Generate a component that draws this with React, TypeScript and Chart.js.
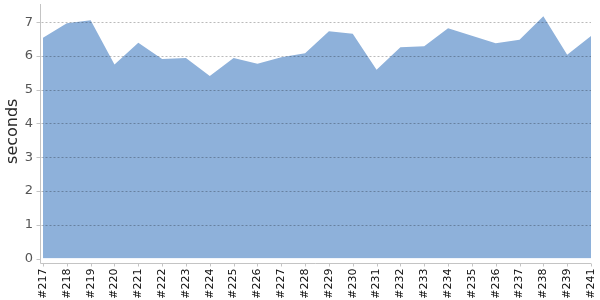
import React, { useEffect, useRef } from "react";
import { Chart, registerables } from "chart.js";

Chart.register(...registerables);

const categories = ["#217", "#218", "#219", "#220", "#221", "#222", "#223", "#224", "#225", "#226", "#227", "#228", "#229", "#230", "#231", "#232", "#233", "#234", "#235", "#236", "#237", "#238", "#239", "#241"];
const durations = [6.54, 6.97, 7.06, 5.75, 6.39, 5.91, 5.94, 5.41, 5.94, 5.77, 5.96, 6.08, 6.73, 6.66, 5.59, 6.26, 6.29, 6.82, 6.6, 6.38, 6.48, 7.18, 6.04, 6.59];
const yTicks = [0, 1, 2, 3, 4, 5, 6, 7];
const yMax = 7.54;
const yTitle = "seconds";

const axesPlugin = {
  id: "customAxes",
  afterDatasetsDraw(chart: any) {
    const { ctx, chartArea } = chart;
    const xs = chart.scales.x;
    const ys = chart.scales.y;
    const axisX = Math.round(chartArea.left - 3) + 0.5;
    const axisY = Math.round(chartArea.bottom + 4) + 0.5;
    ctx.save();
    ctx.lineWidth = 1;
    ctx.strokeStyle = "rgba(0,0,0,0.27)";
    ctx.setLineDash([2, 2]);
    yTicks.forEach((v) => {
      if (v === 0) return;
      const y = Math.round(ys.getPixelForValue(v)) + 0.5;
      ctx.beginPath();
      ctx.moveTo(axisX + 1, y);
      ctx.lineTo(chartArea.right, y);
      ctx.stroke();
    });
    ctx.setLineDash([]);
    ctx.strokeStyle = "#c4c4c4";
    ctx.beginPath();
    ctx.moveTo(axisX, chartArea.top);
    ctx.lineTo(axisX, axisY);
    ctx.lineTo(chartArea.right, axisY);
    ctx.stroke();
    categories.forEach((_, i) => {
      const x = Math.round(xs.getPixelForValue(i)) + 0.5;
      ctx.beginPath();
      ctx.moveTo(x, axisY);
      ctx.lineTo(x, axisY + 3);
      ctx.stroke();
    });
    yTicks.forEach((v) => {
      const y = Math.round(ys.getPixelForValue(v)) + 0.5;
      ctx.beginPath();
      ctx.moveTo(axisX - 4, y);
      ctx.lineTo(axisX, y);
      ctx.stroke();
    });
    ctx.restore();
  },
};

export default function App() {
  const canvasRef = useRef<HTMLCanvasElement | null>(null);

  useEffect(() => {
    if (!canvasRef.current) return;
    const chart = new Chart(canvasRef.current, {
      type: "line",
      data: {
        labels: categories,
        datasets: [
          {
            data: durations,
            fill: "origin",
            backgroundColor: "#8eb1da",
            borderColor: "#8eb1da",
            borderWidth: 0,
            pointRadius: 0,
            tension: 0,
          },
        ],
      },
      plugins: [axesPlugin],
      options: {
        animation: false,
        responsive: true,
        maintainAspectRatio: false,
        layout: { padding: { top: 4, right: 9, left: 0, bottom: 0 } },
        plugins: { legend: { display: false }, tooltip: { enabled: false } },
        scales: {
          x: {
            offset: false,
            border: { display: false },
            grid: { display: false, drawTicks: false },
            afterFit: (s: any) => {
              s.height = 41.5;
              s.paddingLeft = 0;
              s.paddingRight = 0;
              s.paddingTop = 0;
              s.paddingBottom = 0;
            },
            ticks: {
              minRotation: 90,
              maxRotation: 90,
              autoSkip: false,
              padding: 10,
              color: "#111",
              font: { family: "DejaVu Sans", size: 11 },
            },
          },
          y: {
            min: 0,
            max: yMax,
            border: { display: false },
            grid: { display: false, drawTicks: false },
            afterBuildTicks: (s: any) => {
              s.ticks = yTicks.map((v) => ({ value: v }));
            },
            afterFit: (s: any) => {
              s.width = 43;
              s.paddingLeft = 0;
              s.paddingRight = 0;
              s.paddingTop = 0;
              s.paddingBottom = 0;
            },
            ticks: {
              padding: 10,
              color: "#555",
              font: { family: "DejaVu Sans", size: 13 },
            },
            title: {
              display: true,
              text: yTitle,
              color: "#2a2a2a",
              padding: { top: 3, bottom: 0 },
              font: { family: "DejaVu Sans", size: 16 },
            },
          },
        },
      },
    });
    return () => chart.destroy();
  }, []);

  return (
    <div style={{ position: "absolute", left: 0, top: 0, width: 600, height: 300 }}>
      <canvas ref={canvasRef} />
    </div>
  );
}
